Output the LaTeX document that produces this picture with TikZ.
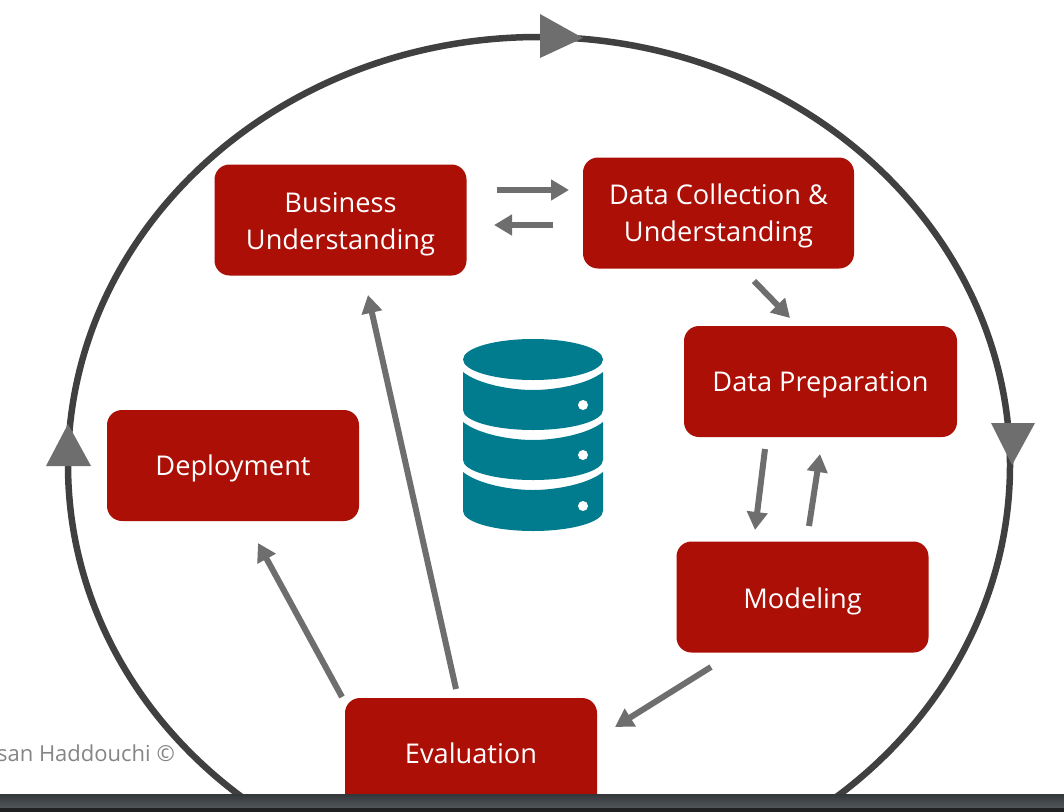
\documentclass[tikz,border=0pt]{standalone}
\usepackage{fontspec}
\setmainfont{Open Sans}
\usetikzlibrary{arrows.meta,calc}
\definecolor{boxred}{HTML}{AB0F06}
\definecolor{flowgray}{HTML}{6E6E6E}
\definecolor{ringgray}{HTML}{404040}
\definecolor{dbteal}{HTML}{007C8E}
\definecolor{bartop}{HTML}{33373A}
\definecolor{barbottom}{HTML}{52575B}
\definecolor{baredge}{HTML}{1E2022}
\newcommand{\lowtext}[2]{\raisebox{-#1}[\height][\depth]{#2}}
\tikzset{
  stage/.style={fill=boxred,rounded corners=15pt,text=white,align=center,inner sep=0pt,
    minimum width=#1,minimum height=111pt,font=\fontsize{27.2}{37}\selectfont},
  stage/.default=252pt,
  flow/.style={draw=flowgray,line width=6pt,-{Triangle[length=18pt,width=20pt]}},
  ring/.style={draw=ringgray,line width=6.5pt},
  ringhead/.style={fill=flowgray},
  dbpart/.style={fill=dbteal},
  dbdot/.style={fill=white},
  note/.style={text=black!48,font=\fontsize{22}{25}\selectfont,inner sep=0pt,anchor=east}
}
\begin{document}
\begin{tikzpicture}[x=1pt,y=-1pt]
\useasboundingbox (0,0) rectangle (1064,811);
\fill[white] (0,0) rectangle (1064,811);
% cycle ring
\draw[ring] (539,465) ellipse [x radius=471,y radius=428];
\fill[ringhead] (540,14) -- (583,38) -- (540,58) -- cycle;
\fill[ringhead] (991,423) -- (1035,423) -- (1012,465) -- cycle;
\fill[ringhead] (46,466) -- (91,466) -- (68,424) -- cycle;
% stages
\node[stage] (biz) at (340.5,220) {\lowtext{4pt}{Business}\\\lowtext{4pt}{Understanding}};
\node[stage=271pt] (dc) at (718.5,213) {\lowtext{3pt}{Data Collection \&}\\\lowtext{3pt}{Understanding}};
\node[stage=273pt] (prep) at (820.5,381.5) {\lowtext{3pt}{Data Preparation}};
\node[stage] (model) at (802.5,597) {\lowtext{4pt}{Modeling}};
\node[stage] (deploy) at (233,465.5) {\lowtext{3pt}{Deployment}};
\node[stage] (eval) at (471,753.5) {Evaluation};
% database icon
\fill[dbpart] (533,359.5) ellipse [x radius=70,y radius=20.5];
\foreach \top/\bot in {372/410,422/460,472/511}{
  \fill[dbpart] (463,\top) .. controls (478,\top+12) and (510,\top+18) .. (533,\top+18)
     .. controls (556,\top+18) and (588,\top+12) .. (603,\top) -- (603,\bot)
     arc [start angle=0,end angle=180,x radius=70,y radius=20] -- cycle;
}
\foreach \y in {405,455,506}{ \fill[dbdot] (583,\y) circle [radius=5]; }
% flows
\draw[flow] ($(biz)+(156.5,-30)$) -- ($(dc)+(-149.5,-23)$);
\draw[flow] ($(dc)+(-165.5,12)$) -- ($(biz)+(153.5,5)$);
\draw[flow] ($(dc)+(35.5,68)$) -- ($(prep)+(-30.5,-63.5)$);
\draw[flow] ($(prep)+(-55.5,67.5)$) -- ($(model)+(-47.5,-67)$);
\draw[flow] ($(model)+(6.5,-71)$) -- ($(prep)+(-0.5,72.5)$);
\draw[flow] ($(model)+(-91.5,70)$) -- ($(eval)+(144,-26.5)$);
\draw[flow] ($(eval)+(-129,-56.5)$) -- ($(deploy)+(25,77.5)$);
\draw[flow] ($(eval)+(-15,-64.5)$) -- ($(biz)+(27.5,75)$);
% credit
\node[note] (credit) at (175,753) {san Haddouchi ©};
% bottom bar
\shade[top color=bartop,bottom color=barbottom] (0,794) rectangle (1064,808);
\fill[baredge] (0,808) rectangle (1064,815);
\end{tikzpicture}
\end{document}
